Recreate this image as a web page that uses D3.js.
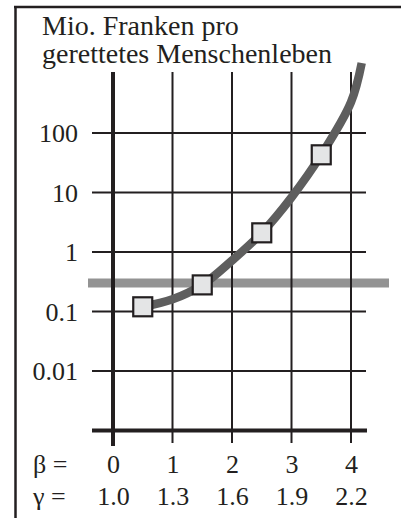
<!DOCTYPE html>
<html>
<head>
<meta charset="utf-8">
<script src="https://cdn.jsdelivr.net/npm/d3@7"></script>
<style>
  body { margin: 0; background: #fff; }
  svg { display: block; }
  text { font-family: "Liberation Serif", "Times New Roman", serif; fill: #231f20; }
</style>
</head>
<body>
<svg id="chart" width="401" height="518"></svg>
<script>
// Values
const titleLines = ["Mio. Franken pro", "gerettetes Menschenleben"];
const yTicks = [0.01, 0.1, 1, 10, 100];
const yTickLabels = ["0.01", "0.1", "1", "10", "100"];
const betaTicks = [0, 1, 2, 3, 4];
const betaLabels = ["0", "1", "2", "3", "4"];
const gammaLabels = ["1.0", "1.3", "1.6", "1.9", "2.2"];

// cost curve (beta, Mio. CHF)
const curveBeta = [0.5, 1.0, 1.5, 2.0, 2.5, 3.0, 3.5, 4.0, 4.18];
const curveCost = [0.12, 0.16, 0.28, 0.72, 2.1, 8.3, 43, 330, 1500];

// marked points
const markerBeta = [0.5, 1.5, 2.5, 3.5];
const markerCost = [0.12, 0.28, 2.1, 43];

// horizontal reference level
const refLevel = 0.3;

const svg = d3.select("#chart");
const ink = "#231f20";

const x = d3.scaleLinear().domain([0, 4]).range([113, 351]);
const y = d3.scaleLog().domain([0.001, 1000]).range([430.5, 73.5]);

// frame (top + left only)
svg.append("line").attr("x1", 14).attr("x2", 401).attr("y1", 7).attr("y2", 7)
  .attr("stroke", ink).attr("stroke-width", 2.5);
svg.append("line").attr("x1", 15.5).attr("x2", 15.5).attr("y1", 6).attr("y2", 518)
  .attr("stroke", ink).attr("stroke-width", 2.5);

// title
svg.append("text")
  .attr("x", 42)
  .attr("y", 35)
  .style("font-size", "28px")
  .selectAll("tspan")
  .data(titleLines)
  .enter()
  .append("tspan")
  .attr("x", 42)
  .attr("dy", (d, i) => i === 0 ? 0 : 28)
  .text(d => d);

// grey reference band
svg.append("line")
  .attr("x1", 88).attr("x2", 389)
  .attr("y1", y(refLevel)).attr("y2", y(refLevel))
  .attr("stroke", "#939393").attr("stroke-width", 9);

// grid: horizontal lines
svg.selectAll(".hgrid")
  .data(yTicks)
  .enter()
  .append("line")
  .attr("class", "hgrid")
  .attr("x1", 92).attr("x2", 366)
  .attr("y1", d => y(d)).attr("y2", d => y(d))
  .attr("stroke", ink).attr("stroke-width", 2);

// grid: vertical lines
svg.selectAll(".vgrid")
  .data(betaTicks)
  .enter()
  .append("line")
  .attr("class", "vgrid")
  .attr("x1", d => x(d)).attr("x2", d => x(d))
  .attr("y1", 72).attr("y2", d => d === 0 ? 446 : 443)
  .attr("stroke", ink).attr("stroke-width", d => d === 0 ? 4 : 2);

// bottom axis line (0.001)
svg.append("line")
  .attr("x1", 92).attr("x2", 367)
  .attr("y1", y(0.001)).attr("y2", y(0.001))
  .attr("stroke", ink).attr("stroke-width", 4);

// y labels
const yAxis = d3.axisLeft(y)
  .tickValues(yTicks)
  .tickFormat((d, i) => yTickLabels[i])
  .tickSize(0)
  .tickPadding(35);

const yAxisG = svg.append("g")
  .attr("transform", `translate(${x(0)},0)`)
  .call(yAxis);
yAxisG.select(".domain").remove();
yAxisG.selectAll("text")
  .attr("font-family", null)
  .style("font-size", "26px")
  .attr("fill", ink)
  .attr("dy", "0.34em");

// beta / gamma rows
const betaAxis = d3.axisBottom(x)
  .tickValues(betaTicks)
  .tickFormat((d, i) => betaLabels[i])
  .tickSize(0)
  .tickPadding(0);
const betaG = svg.append("g")
  .attr("transform", "translate(0,473)")
  .call(betaAxis);
betaG.select(".domain").remove();
betaG.selectAll("text")
  .attr("font-family", null)
  .style("font-size", "26px")
  .attr("fill", ink)
  .attr("y", 0)
  .attr("dy", 0);

const gammaAxis = d3.axisBottom(x)
  .tickValues(betaTicks)
  .tickFormat((d, i) => gammaLabels[i])
  .tickSize(0)
  .tickPadding(0);
const gammaG = svg.append("g")
  .attr("transform", "translate(0,505)")
  .call(gammaAxis);
gammaG.select(".domain").remove();
gammaG.selectAll("text")
  .attr("font-family", null)
  .style("font-size", "26px")
  .attr("fill", ink)
  .attr("y", 0)
  .attr("dy", 0);

svg.append("text").attr("x", 33).attr("y", 473)
  .style("font-size", "26px").text("\u03b2 =");
svg.append("text").attr("x", 33).attr("y", 505)
  .style("font-size", "26px").text("\u03b3 =");

// curve
const curveData = curveBeta.map((b, i) => ({ b: b, v: curveCost[i] }));
const line = d3.line()
  .x(d => x(d.b))
  .y(d => y(d.v))
  .curve(d3.curveCatmullRom.alpha(0.5));

svg.append("path")
  .datum(curveData)
  .attr("d", line)
  .attr("fill", "none")
  .attr("stroke", "#5e5e5e")
  .attr("stroke-width", 8.5);

// markers
const ms = 19;
svg.selectAll(".marker")
  .data(markerBeta.map((b, i) => ({ b: b, v: markerCost[i] })))
  .enter()
  .append("rect")
  .attr("class", "marker")
  .attr("x", d => x(d.b) - ms / 2)
  .attr("y", d => y(d.v) - ms / 2)
  .attr("width", ms)
  .attr("height", ms)
  .attr("fill", "#e4e5e6")
  .attr("stroke", ink)
  .attr("stroke-width", 2.2);
</script>
</body>
</html>
